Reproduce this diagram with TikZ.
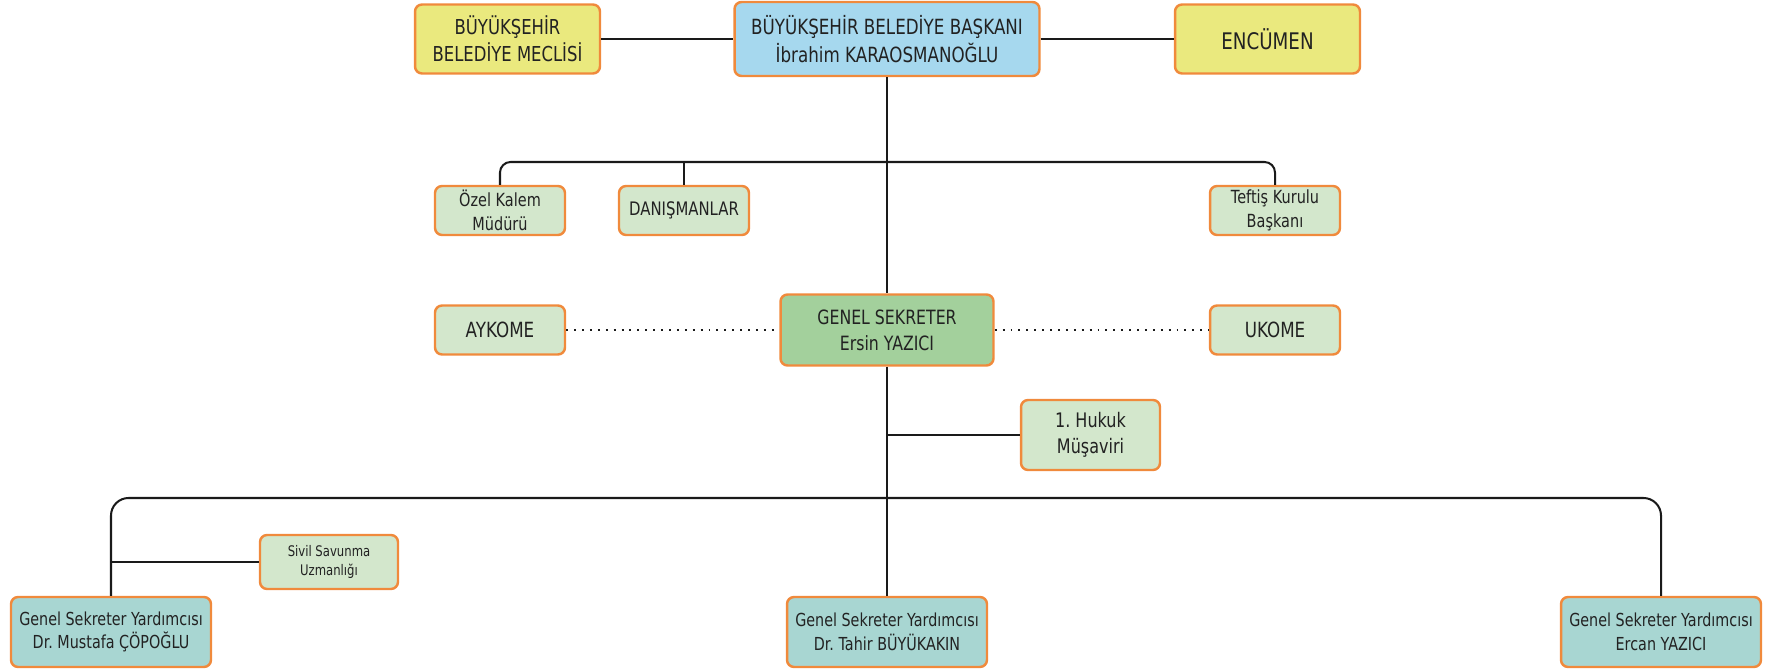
\documentclass[tikz,border=0pt]{standalone}
\usepackage{fontspec}
\setmainfont{DejaVu Sans}[FakeStretch=0.8]
\usetikzlibrary{positioning}

\definecolor{yel}{HTML}{EAE97E}
\definecolor{blu}{HTML}{A6D8EE}
\definecolor{lgr}{HTML}{D3E7CC}
\definecolor{grn}{HTML}{A3D09C}
\definecolor{tea}{HTML}{A8D6D2}
\definecolor{org}{HTML}{F08A3C}
\definecolor{txt}{HTML}{222222}
\definecolor{lin}{HTML}{1A1A1A}

\begin{document}
\frenchspacing
\begin{tikzpicture}[
  x=0.02cm, y=-0.02cm,
  box/.style={draw=org, line width=1.4pt, rounded corners=4pt, align=center, inner sep=0pt, text=txt},
  head/.style={box, fill=blu, minimum width=6.1cm, minimum height=1.48cm, font=\fontsize{11.9}{15.6}\selectfont},
  council/.style={box, fill=yel, minimum width=3.7cm, minimum height=1.38cm},
  unit/.style={box, fill=lgr, minimum width=2.6cm, minimum height=0.98cm},
  sec/.style={box, fill=grn, minimum width=4.26cm, minimum height=1.42cm, font=\fontsize{11.2}{14.8}\selectfont},
  dep/.style={box, fill=tea, minimum width=4.0cm, minimum height=1.4cm, font=\fontsize{10.2}{13.4}\selectfont},
  conn/.style={draw=lin, line width=1.15pt},
  dots/.style={draw=lin, line width=1.15pt, dash pattern=on 1.1pt off 3.4pt}
]
\useasboundingbox (0,0) rectangle (1775,671);

% top row
\node[head] (bsk) at (887,39) {BÜYÜKŞEHİR BELEDİYE BAŞKANI\\İbrahim KARAOSMANOĞLU};
\node[council, font=\fontsize{11.7}{15.4}\selectfont] (mec) at (507.5,39) {BÜYÜKŞEHİR\\BELEDİYE MECLİSİ};
\node[council, font=\fontsize{13}{16}\selectfont] (enc) at (1267.5,39) {ENCÜMEN};

% staff
\node[unit, font=\fontsize{10.3}{13.6}\selectfont] (ozk) at (500,210.5) {Özel Kalem\\Müdürü};
\node[unit, font=\fontsize{10.6}{14}\selectfont] (dan) at (684,210.5) {DANIŞMANLAR};
\node[unit, font=\fontsize{10.3}{13.6}\selectfont] (tft) at (1275,210.5) {Teftiş Kurulu\\Başkanı};

% secretary
\node[sec] (gs) at (887,330) {GENEL SEKRETER\\Ersin YAZICI};
\node[unit, font=\fontsize{11.9}{15}\selectfont] (ayk) at (500,330) {AYKOME};
\node[unit, font=\fontsize{11.9}{15}\selectfont] (uko) at (1275,330) {UKOME};
\node[unit, minimum width=2.78cm, minimum height=1.4cm, font=\fontsize{11.4}{15}\selectfont] (hkk) at (1090.5,435) {1. Hukuk\\Müşaviri};

% deputies
\node[dep] (gy1) at (111,632) {Genel Sekreter Yardımcısı\\Dr. Mustafa ÇÖPOĞLU};
\node[dep] (gy2) at (887,632) {Genel Sekreter Yardımcısı\\Dr. Tahir BÜYÜKAKIN};
\node[dep] (gy3) at (1661,632) {Genel Sekreter Yardımcısı\\Ercan YAZICI};
\node[unit, minimum width=2.76cm, minimum height=1.08cm, font=\fontsize{8.3}{11}\selectfont] (ssv) at (329,562) {Sivil Savunma\\Uzmanlığı};

\coordinate (bus1) at (887,162);
\coordinate (bus2) at (887,498);

\path[conn]
(mec) edge (bsk)
(bsk) edge (enc)
(bsk) edge (gs)
(dan.north) edge (dan.north |- bus1)
(gs) edge (gy2)
(gs.south |- hkk.west) edge (hkk)
(gy1.north |- ssv.west) edge (ssv)
;
\draw[conn, rounded corners=6pt] (ozk) |- (bus1) -| (tft);
\draw[conn, rounded corners=10pt] (gy1) |- (bus2) -| (gy3);

% dotted links
\path[dots]
(ayk) edge (gs)
(gs) edge (uko)
;
\end{tikzpicture}
\end{document}
